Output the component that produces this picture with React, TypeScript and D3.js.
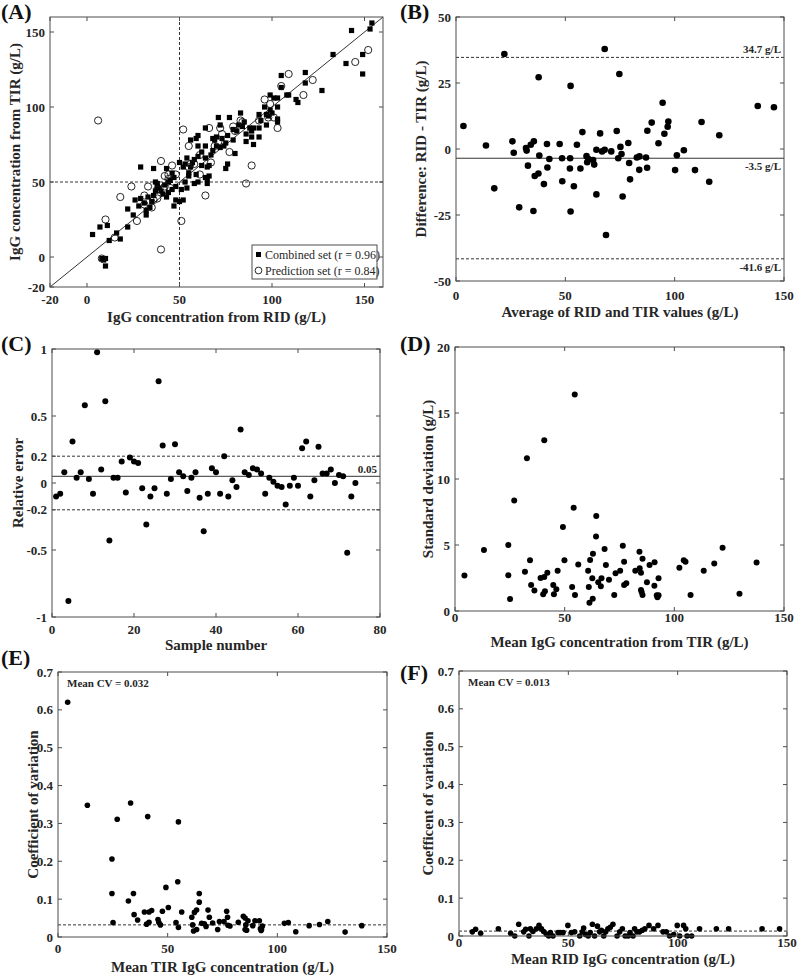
import React from 'react';
import * as d3 from 'd3';

type Pt = [number, number];

// (A) RID vs TIR
const combinedSet: Pt[] = [
  [3,15],[7,20],[11,21],[12,11],[16,16],[18,12],[22,20],[22,32],[25,28],[26,38],[28,34],[29,39],[29,60],[31,36],[32,31],[32,28],[33,40],[34,33],[36,59],[37,50],[37,44],[38,47],[38,49],[40,44],[41,42],[43,40],[43,59],[44,50],[45,51],[46,45],[46,56],[47,34],[48,38],[50,37],[50,63],[51,45],[52,38],[52,60],[53,50],[53,62],[54,66],[54,46],[55,54],[55,56],[56,78],[57,63],[58,49],[59,55],[59,79],[60,50],[60,67],[60,74],[60,81],[62,61],[64,66],[64,53],[64,74],[64,86],[65,49],[65,60],[65,52],[66,61],[66,54],[68,71],[68,79],[69,78],[70,74],[71,93],[72,88],[73,79],[74,74],[75,76],[75,59],[76,62],[77,93],[79,85],[79,78],[80,69],[83,96],[84,87],[86,82],[86,77],[88,86],[89,84],[90,86],[90,75],[89,80],[93,80],[93,86],[93,95],[97,95],[97,88],[98,94],[99,98],[99,108],[101,106],[103,100],[103,92],[103,90],[103,106],[105,121],[105,113],[108,108],[109,108],[113,105],[114,103],[118,116],[118,123],[127,111],[133,135],[140,129],[143,151],[149,135],[149,122],[153,152],[154,156],[8,-1],[9,-2],[10,-1],[10,-6],[35,37],[36,41],[39,46],[42,48],[44,43],[47,53],[48,47],[56,60],[58,65],[62,70],[67,68],[70,80],[72,73],[76,81],[81,84],[82,88],[85,90],[94,91],[96,100],[100,96],
];
const predictionSet: Pt[] = [
  [6,91],[8,-1],[10,25],[15,13],[18,40],[24,47],[27,24],[31,41],[31,35],[33,47],[35,33],[36,38],[38,45],[38,39],[40,5],[40,64],[42,54],[42,47],[44,55],[45,46],[46,61],[48,55],[51,24],[52,85],[55,74],[56,62],[58,62],[61,55],[61,68],[64,41],[66,86],[67,63],[71,77],[72,86],[73,82],[77,70],[79,87],[83,91],[84,90],[86,49],[89,61],[93,91],[96,105],[98,93],[99,102],[101,93],[103,86],[105,114],[109,122],[117,108],[122,118],[145,130],[152,138],[55,60],[69,74],[80,84],[44,52],
];

// (B) Bland-Altman
const blandAltman: Pt[] = [
  [3.4,8.7],[13.7,1.3],[22.1,36],[17.5,-14.9],[25.8,2.9],[26.4,-1.4],[28.9,-22.1],[32,0.4],[32.3,-0.6],[34.2,1.6],[35.6,2.9],[32.9,-6.3],[35.4,-23.5],[37.8,27.2],[38.1,-2.5],[36,-10.2],[37.7,-9.3],[40.2,-13.3],[41.6,1.9],[41.8,-7],[42.7,-3.8],[47.4,1.9],[48.5,-3.5],[48.6,-12.2],[52.2,-3.5],[52.4,23.9],[52.1,-7.4],[52.4,-23.7],[53.9,-14.1],[55.3,1.6],[56.9,-7.4],[57.8,6.4],[59.7,-2.7],[60,-5],[60.6,-3.8],[62.7,-4.2],[63.2,-5.9],[64.2,-0.3],[64.2,-17.2],[65.9,5.9],[66.8,-0.9],[68,37.9],[68,-0.3],[68.6,-32.6],[71,-0.9],[73.5,6.8],[74.2,-3.5],[74.7,28.4],[75.2,0.8],[75.7,-1.9],[76.2,-18],[78.8,2.3],[79.2,-5.3],[79.6,-11.5],[82.7,-3.2],[83.9,-2.8],[83.8,-7.9],[86.9,-3.2],[87.5,6.9],[87.4,-7.1],[89.5,10],[92.6,2.2],[94.5,17.5],[95.3,5.8],[96.8,8.4],[97.1,10.4],[100.2,-8],[101,-2.4],[104.2,-0.5],[109.3,-8],[112.3,10.2],[115.8,-12.4],[120.4,5.2],[138,16.3],[145.4,15.8],
];
const baLimits = { upper: 34.7, mean: -3.5, lower: -41.6 };

// (C) relative error, sample number = index + 1
const relativeError: number[] = [
  -0.10,-0.08,0.08,-0.88,0.31,0.04,0.08,0.58,0.03,-0.08,0.975,0.10,0.61,-0.43,0.04,0.04,0.16,-0.07,0.19,0.16,0.15,-0.04,-0.31,-0.10,-0.04,0.76,0.28,-0.08,0.03,0.29,0.08,0.05,-0.06,0.04,0.08,-0.11,-0.36,-0.08,0.11,0.08,-0.08,0.20,-0.10,0.02,-0.03,0.40,0.08,0.06,0.11,0.10,0.07,-0.08,0.04,0.01,-0.02,-0.03,-0.16,-0.02,0.04,-0.02,0.26,0.31,-0.10,0.02,0.27,0.07,0.07,0.10,0.00,0.06,0.05,-0.52,-0.10,0.00,
];
const relErrMean = 0.05;
const relErrBand = 0.2;

// (D) standard deviation vs mean TIR
const sdTIR: Pt[] = [
  [4.3,2.68],[13.2,4.62],[24.3,5.0],[24.3,2.7],[25.1,0.91],[27,8.38],[31.9,2.98],[32.8,11.57],[34.2,3.84],[34.7,1.97],[36.2,1.56],[39,2.5],[40.2,1.26],[40.7,12.93],[40.7,2.58],[41,1.5],[42.1,2.9],[44.8,1.97],[45.1,1.26],[46.2,1.64],[46.8,3.05],[49.2,6.36],[49.9,3.84],[53.4,1.82],[54.1,7.83],[54.7,1.21],[54.6,16.4],[56.2,3.52],[60.7,3.04],[61,1.82],[61.6,3.87],[61.3,0.63],[62.8,0.93],[62.9,4.33],[62.6,2.48],[64.3,5.65],[64.4,7.2],[65.3,2.17],[66.5,1.87],[66.8,2.48],[68.2,4.7],[68.8,3.48],[70.2,2.36],[72.6,1.21],[73.2,2.86],[75.3,3.05],[76.5,4.95],[77.1,3.74],[77.1,1.97],[78.1,2.1],[82.2,3.05],[84.1,4.48],[84.2,3.23],[84.8,2.9],[84.8,1.6],[85.1,1.44],[85.5,1.21],[85.5,3.95],[87.5,2.17],[88.7,3.48],[91,3.69],[90.9,1.92],[92,1.2],[92.3,1.05],[92.8,1.2],[92.8,2.48],[102.3,3.28],[104.3,3.84],[105.1,3.74],[107.4,1.21],[113.4,3.05],[118.2,3.6],[122,4.8],[129.7,1.31],[137.5,3.67],
];

// (E) CV vs mean TIR
const cvTIR: Pt[] = [
  [4.4,0.62],[13.4,0.348],[27,0.311],[33.1,0.354],[40.9,0.318],[54.9,0.304],[24.6,0.206],[24.6,0.115],[25.1,0.038],[32.1,0.095],[34.4,0.115],[34.7,0.059],[36.3,0.045],[39.4,0.066],[40.4,0.034],[41.5,0.066],[41.5,0.039],[42.7,0.07],[45.6,0.046],[46,0.038],[46.7,0.032],[47.6,0.068],[49.2,0.131],[50.3,0.078],[53.8,0.038],[54.6,0.146],[54.9,0.025],[56.4,0.066],[61,0.052],[61.4,0.032],[61.8,0.016],[62.2,0.065],[63.2,0.071],[63.2,0.02],[64.4,0.115],[64.4,0.092],[65.5,0.036],[66.7,0.035],[67.5,0.028],[68.4,0.071],[69,0.052],[70.5,0.037],[72.8,0.02],[73.6,0.041],[75.7,0.041],[76.9,0.068],[77.3,0.052],[77.5,0.031],[78.4,0.029],[82.2,0.039],[84.5,0.055],[85.3,0.05],[85.3,0.02],[86,0.018],[86.6,0.043],[85.6,0.032],[88.8,0.03],[89.8,0.043],[91.8,0.043],[92.3,0.022],[92.6,0.017],[92.8,0.02],[93.2,0.029],[103.2,0.036],[105,0.038],[108.4,0.014],[114.5,0.03],[119.2,0.033],[123,0.041],[130.9,0.013],[138.5,0.03],
];
const cvTIRMean = 0.032;

// (F) CV vs mean RID
const cvRID: Pt[] = [
  [6.1,0.011],[7.6,0.018],[9.9,0.007],[18,0.019],[23.6,0.007],[25.5,0],[27.3,0.031],[29.6,0.011],[30.5,0.018],[32,0],[32.6,0.019],[33.8,0.012],[35.4,0.019],[36.6,0.028],[37.7,0.019],[38.7,0.012],[39.9,0.005],[41,0],[41.8,0.009],[43,0],[45.3,0.009],[46.3,0.009],[47.6,0.009],[49.8,0.028],[51.4,0.009],[52.9,0.011],[55.2,0],[56.4,0.011],[57,0.021],[57.9,0.004],[59.1,0],[60,0.009],[61,0.031],[62,0],[63.3,0.026],[64.3,0.011],[65.1,0.015],[66.2,0],[67.1,0.011],[68.1,0.019],[69.2,0.023],[70.4,0.031],[72.3,0],[73.5,0.011],[74.7,0.019],[76,0],[77.4,0],[78.2,0.009],[79.6,0],[80.3,0.019],[81.4,0.011],[82.6,0.011],[83.8,0.015],[85,0.019],[86.9,0.028],[89,0.019],[91,0.028],[93.3,0.011],[94.8,0.011],[96.3,0],[98.2,0.004],[99.8,0.028],[100.9,0],[102.7,0.028],[103.7,0.019],[104.3,0],[106.4,0],[110,0.019],[117.7,0.019],[123.3,0.019],[138.6,0.019],[146.6,0.019],
];
const cvRIDMean = 0.013;

const ticksA = [-20, 0, 50, 100, 150];
const ticks150 = [0, 50, 100, 150];
const ticksBY = [-50, -25, 0, 25, 50];
const ticksCX = [0, 20, 40, 60, 80];
const ticksCY = [-1, -0.5, -0.2, 0, 0.2, 0.5, 1];
const ticksDY = [0, 5, 10, 15, 20];
const ticksCV = [0, 0.1, 0.2, 0.3, 0.4, 0.5, 0.6, 0.7];

const FONT = "'Times New Roman', 'Liberation Serif', serif";
const TXT = '#262626';
const AX = '#4d4d4d';
const DASH = '3,2';

type Box = { left: number; right: number; top: number; bottom: number };

function makeScales(b: Box, xd: [number, number], yd: [number, number]) {
  const x = d3.scaleLinear().domain(xd).range([b.left, b.right]);
  const y = d3.scaleLinear().domain(yd).range([b.bottom, b.top]);
  return { x, y };
}

function Frame({ b, x, y, xTicks, yTicks, xTickDy, xLabel, yLabel, yLabelX, xLabelY, tag, tagX, tagY }: any) {
  const tl = 4;
  return (
    <g>
      <rect x={b.left} y={b.top} width={b.right - b.left} height={b.bottom - b.top} fill="none" stroke={AX} strokeWidth={1} />
      {xTicks.map((t: number) => (
        <g key={'x' + t}>
          <line x1={x(t)} x2={x(t)} y1={b.bottom} y2={b.bottom - tl} stroke={AX} />
          <line x1={x(t)} x2={x(t)} y1={b.top} y2={b.top + tl} stroke={AX} />
          <text x={x(t)} y={b.bottom + xTickDy} textAnchor="middle" fontFamily={FONT} fontWeight="bold" fontSize={13} fill={TXT}>{String(t)}</text>
        </g>
      ))}
      {yTicks.map((t: number) => (
        <g key={'y' + t}>
          <line x1={b.left} x2={b.left + tl} y1={y(t)} y2={y(t)} stroke={AX} />
          <line x1={b.right} x2={b.right - tl} y1={y(t)} y2={y(t)} stroke={AX} />
          <text x={b.left - 5} y={y(t) + 4.5} textAnchor="end" fontFamily={FONT} fontWeight="bold" fontSize={13} fill={TXT}>{String(t)}</text>
        </g>
      ))}
      <text x={(b.left + b.right) / 2} y={xLabelY} textAnchor="middle" fontFamily={FONT} fontWeight="bold" fontSize={15} fill={TXT}>{xLabel}</text>
      <text transform={`translate(${yLabelX},${(b.top + b.bottom) / 2}) rotate(-90)`} textAnchor="middle" fontFamily={FONT} fontWeight="bold" fontSize={15} fill={TXT}>{yLabel}</text>
      <text x={tagX} y={tagY} fontFamily={FONT} fontWeight="bold" fontSize={22} fill="#111">{tag}</text>
    </g>
  );
}

function Dots({ pts, x, y, r }: any) {
  return (
    <g>
      {pts.map((p: Pt, i: number) => (
        <circle key={i} cx={x(p[0])} cy={y(p[1])} r={r} fill="#000" />
      ))}
    </g>
  );
}

function HLine({ b, y, v, dashed }: any) {
  return <line x1={b.left} x2={b.right} y1={y(v)} y2={y(v)} stroke="#333" strokeWidth={1} strokeDasharray={dashed ? DASH : undefined} />;
}

function PanelA() {
  const b = { left: 50, right: 383, top: 17, bottom: 287 };
  const { x, y } = makeScales(b, [-20, 160], [-20, 160]);
  const lb = { x: 252, y: 245, w: 125, h: 34 };
  return (
    <g>
      <line x1={x(50)} x2={x(50)} y1={b.top} y2={b.bottom} stroke="#333" strokeDasharray={DASH} />
      <line x1={b.left} x2={b.right} y1={y(50)} y2={y(50)} stroke="#333" strokeDasharray={DASH} />
      <line x1={x(-20)} y1={y(-20)} x2={x(160)} y2={y(160)} stroke="#333" strokeWidth={1} />
      {combinedSet.map((p, i) => (
        <rect key={'s' + i} x={x(p[0]) - 2.6} y={y(p[1]) - 2.6} width={5.2} height={5.2} fill="#000" />
      ))}
      {predictionSet.map((p, i) => (
        <circle key={'c' + i} cx={x(p[0])} cy={y(p[1])} r={3.6} fill="none" stroke="#111" strokeWidth={0.9} />
      ))}
      <rect x={lb.x} y={lb.y} width={lb.w} height={lb.h} fill="#fff" stroke={AX} />
      <rect x={lb.x + 4} y={lb.y + 7} width={5} height={5} fill="#000" />
      <text x={lb.x + 13} y={lb.y + 13.5} fontFamily={FONT} fontSize={12} fill={TXT}>Combined set (r = 0.96)</text>
      <circle cx={lb.x + 6.5} cy={lb.y + 25.5} r={3.4} fill="none" stroke="#111" strokeWidth={0.9} />
      <text x={lb.x + 13} y={lb.y + 29.5} fontFamily={FONT} fontSize={12} fill={TXT}>Prediction set (r = 0.84)</text>
      <Frame b={b} x={x} y={y} xTicks={ticksA} yTicks={ticksA} xTickDy={16.5} xLabel="IgG concentration from RID (g/L)" yLabel="IgG concentration from TIR (g/L)" yLabelX={20} xLabelY={322} tag="(A)" tagX={1} tagY={19} />
    </g>
  );
}

function PanelB() {
  const b = { left: 456, right: 784, top: 17, bottom: 281 };
  const { x, y } = makeScales(b, [0, 150], [-50, 50]);
  const lab = (v: number, t: string, dy: number) => (
    <text x={b.right - 3} y={y(v) + dy} textAnchor="end" fontFamily={FONT} fontWeight="bold" fontSize={11} fill={TXT}>{t}</text>
  );
  return (
    <g>
      <HLine b={b} y={y} v={baLimits.upper} dashed />
      <HLine b={b} y={y} v={baLimits.mean} />
      <HLine b={b} y={y} v={baLimits.lower} dashed />
      {lab(baLimits.upper, `${baLimits.upper} g/L`, -4)}
      {lab(baLimits.mean, `${baLimits.mean} g/L`, 12)}
      {lab(baLimits.lower, `${baLimits.lower} g/L`, 12)}
      <Dots pts={blandAltman} x={x} y={y} r={3.3} />
      <Frame b={b} x={x} y={y} xTicks={ticks150} yTicks={ticksBY} xTickDy={18.5} xLabel="Average of RID and TIR values (g/L)" yLabel="Difference: RID - TIR (g/L)" yLabelX={426} xLabelY={317} tag="(B)" tagX={400} tagY={19} />
    </g>
  );
}

function PanelC() {
  const b = { left: 52, right: 380, top: 349, bottom: 617 };
  const { x, y } = makeScales(b, [0, 80], [-1, 1]);
  const pts: Pt[] = relativeError.map((v, i) => [i + 1, v]);
  return (
    <g>
      <HLine b={b} y={y} v={relErrBand} dashed />
      <HLine b={b} y={y} v={-relErrBand} dashed />
      <HLine b={b} y={y} v={relErrMean} />
      <text x={b.right - 3} y={y(relErrMean) - 3.5} textAnchor="end" fontFamily={FONT} fontWeight="bold" fontSize={11} fill={TXT}>{String(relErrMean)}</text>
      <Dots pts={pts} x={x} y={y} r={3} />
      <Frame b={b} x={x} y={y} xTicks={ticksCX} yTicks={ticksCY} xTickDy={16.5} xLabel="Sample number" yLabel="Relative error" yLabelX={23} xLabelY={650} tag="(C)" tagX={1} tagY={351} />
    </g>
  );
}

function PanelD() {
  const b = { left: 455, right: 784, top: 347, bottom: 611 };
  const { x, y } = makeScales(b, [0, 150], [0, 20]);
  return (
    <g>
      <Dots pts={sdTIR} x={x} y={y} r={3} />
      <Frame b={b} x={x} y={y} xTicks={ticks150} yTicks={ticksDY} xTickDy={11} xLabel="Mean IgG concentration from TIR (g/L)" yLabel="Standard deviation (g/L)" yLabelX={433} xLabelY={647} tag="(D)" tagX={400} tagY={351} />
    </g>
  );
}

function PanelCV({ b, pts, mean, yLabel, xLabel, tag, tagY, yLabelX, xLabelY, xTickDy }: any) {
  const { x, y } = makeScales(b, [0, 150], [0, 0.7]);
  return (
    <g>
      <HLine b={b} y={y} v={mean} dashed />
      <text x={b.left + 9} y={b.top + 15} fontFamily={FONT} fontWeight="bold" fontSize={11} fill={TXT}>{`Mean CV = ${mean}`}</text>
      <Dots pts={pts} x={x} y={y} r={2.8} />
      <Frame b={b} x={x} y={y} xTicks={ticks150} yTicks={ticksCV} xTickDy={xTickDy} xLabel={xLabel} yLabel={yLabel} yLabelX={yLabelX} xLabelY={xLabelY} tag={tag} tagX={b.left < 200 ? 1 : 400} tagY={tagY} />
    </g>
  );
}

export default function App() {
  return (
    <svg width={800} height={975} viewBox="0 0 800 975" style={{ position: 'absolute', left: 0, top: 0, background: '#fff' }}>
      <rect width={800} height={975} fill="#fff" />
      <PanelA />
      <PanelB />
      <PanelC />
      <PanelD />
      <PanelCV b={{ left: 58, right: 387, top: 672, bottom: 937 }} pts={cvTIR} mean={cvTIRMean} yLabel="Coefficient of variation" xLabel="Mean TIR IgG concentration (g/L)" tag="(E)" tagY={665} yLabelX={38} xLabelY={972} xTickDy={15.5} />
      <PanelCV b={{ left: 459, right: 787, top: 671, bottom: 936 }} pts={cvRID} mean={cvRIDMean} yLabel="Coefficent of variation" xLabel="Mean RID IgG concentration (g/L)" tag="(F)" tagY={680} yLabelX={433} xLabelY={964} xTickDy={11} />
    </svg>
  );
}
